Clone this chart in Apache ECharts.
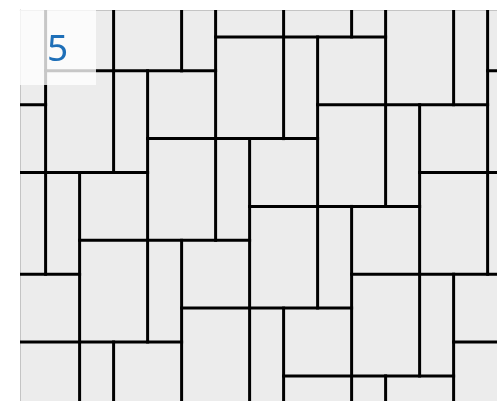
<!DOCTYPE html>
<html>
<head>
<meta charset="utf-8">
<style>html,body{margin:0;padding:0;background:#fff;}#c{width:497px;height:401px;}</style>
<script src="https://cdn.jsdelivr.net/npm/echarts@6/dist/echarts.min.js"></script>
</head>
<body>
<div id="c"></div>
<script>
// Vertical wall segments: [column, rowStart, rowEnd] (grid units)
const verticalSegments = [
  [0, -1, 7],
  [1, 4, 12],
  [2, -1, 4], [2, 9, 12],
  [3, 1, 9],
  [4, -1, 1], [4, 6, 12],
  [5, -1, 6],
  [6, 3, 12],
  [7, -1, 3], [7, 8, 12],
  [8, 0, 8],
  [9, -1, 0], [9, 5, 12],
  [10, -1, 5], [10, 10, 12],
  [11, 2, 10],
  [12, -1, 2], [12, 7, 12],
  [13, -1, 7]
];
// Horizontal wall segments: [row, colStart, colEnd]
const horizontalSegments = [
  [0, 5, 10],
  [1, 0, 5], [1, 13, 15],
  [2, -2, 0], [2, 8, 13],
  [3, 3, 8],
  [4, -2, 3], [4, 11, 15],
  [5, 6, 11],
  [6, 1, 6],
  [7, -2, 1], [7, 9, 15],
  [8, 4, 9],
  [9, -2, 4], [9, 12, 15],
  [10, 7, 12]
];
const panelLabel = '5';

const chart = echarts.init(document.getElementById('c'), null, {renderer: 'canvas'});

function lineItem(p1, p2) {
  return {
    type: 'line',
    shape: {x1: p1[0], y1: p1[1], x2: p2[0], y2: p2[1]},
    style: {stroke: '#000000', lineWidth: 3, lineCap: 'square'}
  };
}

chart.setOption({
  animation: false,
  backgroundColor: '#ffffff',
  grid: {left: 20, top: 10, right: 0, bottom: 0, show: true, backgroundColor: '#ececec', borderWidth: 0},
  xAxis: {
    type: 'value', position: 'top', min: -0.753, max: 13.276,
    axisLine: {show: true, onZero: false, lineStyle: {color: '#c4c4c4', width: 1}},
    axisTick: {show: false}, axisLabel: {show: false}, splitLine: {show: false}
  },
  yAxis: {
    type: 'value', inverse: true, min: -0.794, max: 10.74,
    axisLine: {show: true, onZero: false, lineStyle: {color: '#c4c4c4', width: 1}},
    axisTick: {show: false}, axisLabel: {show: false}, splitLine: {show: false}
  },
  series: [
    {
      type: 'custom', clip: true, silent: true,
      data: verticalSegments,
      encode: {x: 0, y: 1},
      renderItem: function (params, api) {
        const c = api.value(0);
        return lineItem(api.coord([c, api.value(1)]), api.coord([c, api.value(2)]));
      }
    },
    {
      type: 'custom', clip: true, silent: true,
      data: horizontalSegments,
      encode: {y: 0, x: 1},
      renderItem: function (params, api) {
        const r = api.value(0);
        return lineItem(api.coord([api.value(1), r]), api.coord([api.value(2), r]));
      }
    }
  ],
  graphic: [
    {
      type: 'rect', z: 100, silent: true,
      shape: {x: 19, y: 10, width: 77, height: 75},
      style: {fill: 'rgba(255,255,255,0.78)'}
    },
    {
      type: 'text', z: 101, silent: true,
      style: {
        text: panelLabel, x: 57.5, y: 50,
        textAlign: 'center', textVerticalAlign: 'middle',
        fill: '#1e6fb8', fontSize: 37, fontFamily: 'Noto Sans'
      }
    }
  ]
});
</script>
</body>
</html>
